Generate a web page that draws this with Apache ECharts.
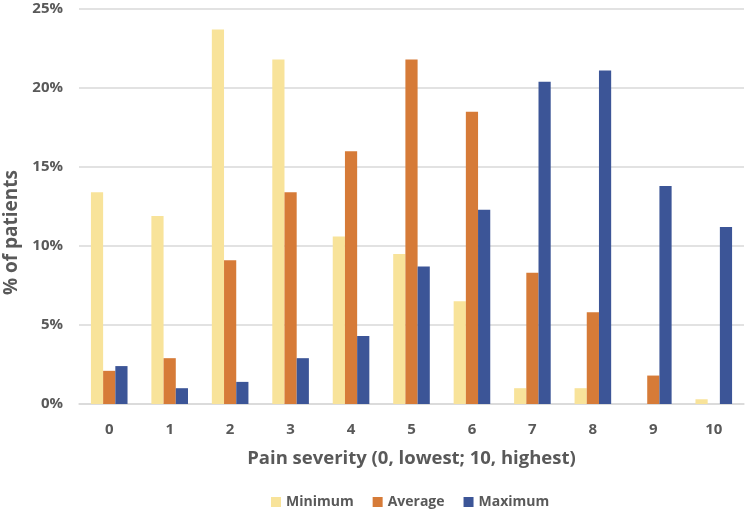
<!DOCTYPE html>
<html><head><meta charset="utf-8">
<script src="https://cdn.jsdelivr.net/npm/echarts@6/dist/echarts.min.js"></script>
<style>html,body{margin:0;padding:0;background:#fff}#c{width:750px;height:512px}</style>
</head><body><div id="c"></div>
<script>
const categories = ['0','1','2','3','4','5','6','7','8','9','10'];
const minimum = [13.4, 11.9, 23.7, 21.8, 10.6, 9.5, 6.5, 1.0, 1.0, 0, 0.3];
const average = [2.1, 2.9, 9.1, 13.4, 16.0, 21.8, 18.5, 8.3, 5.8, 1.8, 0];
const maximum = [2.4, 1.0, 1.4, 2.9, 4.3, 8.7, 12.3, 20.4, 21.1, 13.8, 11.2];
const yTicks = [0, 5, 10, 15, 20, 25];

const font = 'Open Sans';
const txt = '#595959';
const chart = echarts.init(document.getElementById('c'), null, {renderer:'canvas'});
chart.setOption({
  animation: false,
  grid: {left: 79, right: 6, top: 9, bottom: 108, containLabel: false, outerBoundsMode: 'none'},
  legend: {
    bottom: -2, left: 266, itemWidth: 10, itemHeight: 10, itemGap: 19,
    icon: 'rect',
    textStyle: {fontFamily: font, fontSize: 14, fontWeight: 'bold', color: txt},
    data: ['Minimum','Average','Maximum']
  },
  xAxis: {
    type: 'category', data: categories,
    name: 'Pain severity (0, lowest; 10, highest)', nameLocation: 'middle', nameGap: 45,
    nameTextStyle: {fontFamily: font, fontSize: 18.5, fontWeight: 'bold', color: txt},
    axisLine: {lineStyle: {color: '#d9d9d9', width: 1.5}},
    axisTick: {show: false},
    axisLabel: {fontFamily: font, fontSize: 15, fontWeight: 'bold', color: txt, margin: 18}
  },
  yAxis: {
    type: 'value', min: yTicks[0], max: yTicks[yTicks.length-1], interval: 5,
    name: '% of patients', nameLocation: 'middle', nameGap: 56,
    nameTextStyle: {fontFamily: font, fontSize: 19, fontWeight: 'bold', color: txt, padding: [0, 52, 0, 0]},
    axisLine: {show: false}, axisTick: {show: false},
    axisLabel: {fontFamily: font, fontSize: 15, fontWeight: 'bold', color: txt, margin: 16, formatter: v => v + '%'},
    splitLine: {lineStyle: {color: '#d9d9d9', width: 1.5}}
  },
  series: [
    {name: 'Minimum', type: 'bar', data: minimum, barWidth: 12.2, barGap: '0%', itemStyle: {color: '#F8E39A'}},
    {name: 'Average', type: 'bar', data: average, barWidth: 12.2, barGap: '0%', itemStyle: {color: '#D67B38'}},
    {name: 'Maximum', type: 'bar', data: maximum, barWidth: 12.2, barGap: '0%', itemStyle: {color: '#3C5597'}}
  ]
});
</script></body></html>
